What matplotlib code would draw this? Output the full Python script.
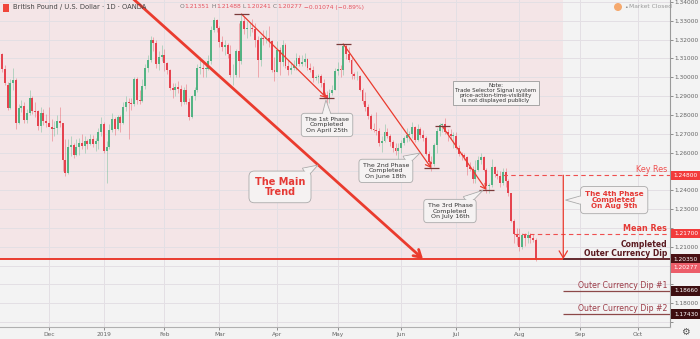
import matplotlib
matplotlib.use("Agg")
import matplotlib.pyplot as plt
import matplotlib.transforms as mtransforms
from matplotlib.patches import Rectangle, Circle, Polygon
import numpy as np
import pandas as pd

# GBP/USD daily candles (OANDA), 7 Nov 2018 .. 9 Aug 2019
opens = [
    1.3080, 1.3125, 1.3045, 1.2960, 1.2835, 1.2970, 1.2985, 1.2755, 1.2835, 1.2850, 1.2775, 1.2810, 1.2890, 1.2820, 1.2820, 1.2740, 1.2810, 1.2770,
    1.2760, 1.2735, 1.2725, 1.2730, 1.2770, 1.2755, 1.2560, 1.2490, 1.2630, 1.2640, 1.2585, 1.2630, 1.2650, 1.2635, 1.2660, 1.2645, 1.2675, 1.2645, 1.2660, 1.2710,
    1.2750, 1.2610, 1.2630, 1.2720, 1.2780, 1.2725, 1.2790, 1.2760, 1.2845, 1.2870, 1.2865, 1.2860, 1.2990, 1.2880, 1.2875, 1.2955, 1.3050, 1.3090, 1.3200, 1.3180, 1.3070, 1.3110,
    1.3120, 1.3075, 1.3040, 1.2945, 1.2935, 1.2950, 1.2940, 1.2870, 1.2935, 1.2870, 1.2790, 1.2900, 1.2935, 1.3050, 1.3050, 1.3045, 1.3045, 1.3085, 1.3250, 1.3305,
    1.3260, 1.3190, 1.3160, 1.3170, 1.3125, 1.3010, 1.3010, 1.3140, 1.3085, 1.3300, 1.3255, 1.3260, 1.3260, 1.3255, 1.3200, 1.3090, 1.3210, 1.3205, 1.3210, 1.3195, 1.3040,
    1.3030, 1.3145, 1.3080, 1.3170, 1.3060, 1.3040, 1.3050, 1.3060, 1.3100, 1.3070, 1.3080, 1.3095, 1.3050, 1.3040, 1.2995, 1.3000, 1.3005, 1.2970, 1.2905, 1.2885, 1.2915, 1.2935,
    1.3035, 1.3045, 1.3040, 1.3165, 1.3125, 1.3090, 1.3015, 1.3005, 1.3005, 1.2935, 1.2875, 1.2845, 1.2795, 1.2725, 1.2720, 1.2715, 1.2650, 1.2660, 1.2710, 1.2690, 1.2655, 1.2625, 1.2610,
    1.2625, 1.2650, 1.2680, 1.2695, 1.2700, 1.2735, 1.2665, 1.2725, 1.2695, 1.2680, 1.2595, 1.2550, 1.2540, 1.2640, 1.2715, 1.2745, 1.2750, 1.2710, 1.2700, 1.2690,
    1.2690, 1.2625, 1.2595, 1.2585, 1.2575, 1.2525, 1.2515, 1.2460, 1.2510, 1.2560, 1.2575, 1.2510, 1.2425, 1.2430, 1.2525, 1.2485, 1.2475, 1.2440, 1.2495, 1.2450, 1.2385, 1.2235, 1.2170,
    1.2150, 1.2100, 1.2160, 1.2145, 1.2165, 1.2145, 1.21351,
]
highs = [
    1.3175, 1.3130, 1.3065, 1.2975, 1.2990, 1.3050, 1.2995, 1.2860, 1.2880, 1.2870, 1.2830, 1.2930, 1.2900, 1.2870, 1.2825, 1.2840, 1.2830, 1.2805,
    1.2840, 1.2780, 1.2770, 1.2800, 1.2840, 1.2760, 1.2670, 1.2670, 1.2690, 1.2650, 1.2670, 1.2680, 1.2700, 1.2690, 1.2670, 1.2700, 1.2695, 1.2680, 1.2730, 1.2790,
    1.2765, 1.2660, 1.2750, 1.2810, 1.2790, 1.2800, 1.2800, 1.2870, 1.2900, 1.2890, 1.2890, 1.3000, 1.3000, 1.2930, 1.2990, 1.3070, 1.3120, 1.3220, 1.3215, 1.3200, 1.3140, 1.3170,
    1.3150, 1.3080, 1.3045, 1.2970, 1.2970, 1.2980, 1.2960, 1.2950, 1.2965, 1.2890, 1.2905, 1.2950, 1.3070, 1.3110, 1.3090, 1.3070, 1.3120, 1.3270, 1.3320, 1.3310,
    1.3270, 1.3220, 1.3200, 1.3180, 1.3170, 1.3070, 1.3150, 1.3290, 1.3336, 1.3320, 1.3300, 1.3290, 1.3310, 1.3290, 1.3220, 1.3220, 1.3250, 1.3250, 1.3270, 1.3200, 1.3110,
    1.3195, 1.3160, 1.3200, 1.3180, 1.3090, 1.3080, 1.3090, 1.3130, 1.3120, 1.3120, 1.3130, 1.3100, 1.3075, 1.3060, 1.3010, 1.3020, 1.3020, 1.2990, 1.2925, 1.2940, 1.2960, 1.3050,
    1.3080, 1.3065, 1.3177, 1.3175, 1.3160, 1.3110, 1.3030, 1.3035, 1.3010, 1.2945, 1.2920, 1.2860, 1.2805, 1.2755, 1.2815, 1.2730, 1.2690, 1.2750, 1.2730, 1.2700, 1.2665, 1.2650, 1.2650,
    1.2665, 1.2690, 1.2730, 1.2715, 1.2765, 1.2740, 1.2750, 1.2735, 1.2720, 1.2690, 1.2610, 1.2580, 1.2650, 1.2730, 1.2755, 1.2760, 1.2785, 1.2725, 1.2725, 1.2710,
    1.2710, 1.2640, 1.2605, 1.2600, 1.2580, 1.2550, 1.2530, 1.2560, 1.2580, 1.2600, 1.2580, 1.2520, 1.2440, 1.2565, 1.2530, 1.2510, 1.2500, 1.2520, 1.2520, 1.2460, 1.2385, 1.2250, 1.2200,
    1.2200, 1.2175, 1.2175, 1.2185, 1.2175, 1.2170, 1.21488,
]
lows = [
    1.3050, 1.3030, 1.2960, 1.2825, 1.2830, 1.2930, 1.2725, 1.2750, 1.2815, 1.2760, 1.2760, 1.2800, 1.2805, 1.2790, 1.2720, 1.2710, 1.2745, 1.2735,
    1.2740, 1.2660, 1.2690, 1.2700, 1.2735, 1.2505, 1.2475, 1.2485, 1.2580, 1.2570, 1.2580, 1.2590, 1.2620, 1.2600, 1.2620, 1.2640, 1.2630, 1.2610, 1.2620, 1.2690,
    1.2600, 1.2440, 1.2620, 1.2710, 1.2695, 1.2720, 1.2710, 1.2750, 1.2820, 1.2670, 1.2825, 1.2850, 1.2860, 1.2860, 1.2870, 1.2940, 1.3030, 1.3080, 1.3140, 1.3050, 1.3040, 1.3085,
    1.3035, 1.3020, 1.2935, 1.2890, 1.2900, 1.2915, 1.2850, 1.2860, 1.2860, 1.2775, 1.2785, 1.2880, 1.2920, 1.3020, 1.3000, 1.3000, 1.3040, 1.3070, 1.3240, 1.3240,
    1.3160, 1.3140, 1.3120, 1.3100, 1.3000, 1.2960, 1.3000, 1.3000, 1.3070, 1.3230, 1.3210, 1.3220, 1.3240, 1.3160, 1.3000, 1.3060, 1.3170, 1.3180, 1.3160, 1.3030, 1.2980,
    1.3030, 1.3010, 1.3060, 1.3050, 1.3010, 1.3020, 1.3040, 1.3040, 1.3060, 1.3060, 1.3060, 1.3040, 1.3030, 1.2975, 1.2985, 1.2970, 1.2950, 1.2890, 1.2865, 1.2865, 1.2905, 1.2930,
    1.3010, 1.3000, 1.3010, 1.3095, 1.3080, 1.2990, 1.2990, 1.2985, 1.2925, 1.2860, 1.2820, 1.2780, 1.2720, 1.2710, 1.2695, 1.2635, 1.2605, 1.2655, 1.2680, 1.2635, 1.2605, 1.2585, 1.2560,
    1.2600, 1.2640, 1.2655, 1.2660, 1.2680, 1.2655, 1.2660, 1.2680, 1.2660, 1.2590, 1.2540, 1.2505, 1.2530, 1.2600, 1.2690, 1.2710, 1.2700, 1.2660, 1.2670, 1.2625,
    1.2620, 1.2580, 1.2560, 1.2560, 1.2480, 1.2500, 1.2440, 1.2440, 1.2500, 1.2540, 1.2500, 1.2385, 1.2385, 1.2420, 1.2470, 1.2460, 1.2420, 1.2430, 1.2420, 1.2370, 1.2230, 1.2120, 1.2110,
    1.2080, 1.2090, 1.2105, 1.2120, 1.2120, 1.2125, 1.20241,
]
closes = [
    1.3125, 1.3045, 1.2970, 1.2835, 1.2970, 1.2985, 1.2755, 1.2835, 1.2850, 1.2775, 1.2810, 1.2890, 1.2820, 1.2815, 1.2740, 1.2810, 1.2770, 1.2760,
    1.2735, 1.2725, 1.2730, 1.2770, 1.2755, 1.2560, 1.2490, 1.2630, 1.2640, 1.2585, 1.2630, 1.2650, 1.2635, 1.2660, 1.2645, 1.2675, 1.2645, 1.2660, 1.2710, 1.2750,
    1.2610, 1.2630, 1.2720, 1.2780, 1.2725, 1.2790, 1.2760, 1.2845, 1.2870, 1.2865, 1.2860, 1.2990, 1.2880, 1.2875, 1.2955, 1.3050, 1.3090, 1.3200, 1.3180, 1.3070, 1.3110, 1.3120,
    1.3075, 1.3040, 1.2945, 1.2935, 1.2950, 1.2940, 1.2870, 1.2935, 1.2870, 1.2790, 1.2900, 1.2935, 1.3050, 1.3050, 1.3045, 1.3045, 1.3085, 1.3250, 1.3305, 1.3260,
    1.3190, 1.3160, 1.3170, 1.3125, 1.3010, 1.3010, 1.3140, 1.3085, 1.3300, 1.3255, 1.3260, 1.3260, 1.3255, 1.3200, 1.3090, 1.3210, 1.3205, 1.3210, 1.3195, 1.3040, 1.3030,
    1.3145, 1.3080, 1.3170, 1.3060, 1.3040, 1.3050, 1.3060, 1.3100, 1.3070, 1.3080, 1.3095, 1.3050, 1.3040, 1.2995, 1.3000, 1.3005, 1.2970, 1.2905, 1.2885, 1.2915, 1.2935, 1.3035,
    1.3045, 1.3040, 1.3165, 1.3125, 1.3090, 1.3015, 1.3005, 1.3005, 1.2935, 1.2875, 1.2845, 1.2795, 1.2725, 1.2720, 1.2715, 1.2650, 1.2660, 1.2710, 1.2690, 1.2655, 1.2625, 1.2610, 1.2625,
    1.2650, 1.2680, 1.2695, 1.2700, 1.2735, 1.2665, 1.2725, 1.2695, 1.2680, 1.2595, 1.2550, 1.2540, 1.2640, 1.2715, 1.2745, 1.2750, 1.2710, 1.2700, 1.2690, 1.2690,
    1.2625, 1.2595, 1.2585, 1.2575, 1.2525, 1.2515, 1.2460, 1.2510, 1.2560, 1.2575, 1.2510, 1.2425, 1.2430, 1.2525, 1.2485, 1.2475, 1.2440, 1.2495, 1.2450, 1.2385, 1.2235, 1.2170, 1.2150,
    1.2100, 1.2160, 1.2145, 1.2165, 1.2145, 1.2135, 1.20277,
]

first_day = "2018-11-07"
closed_days = ["2018-12-25", "2019-01-01"]
month_ticks = ["2018-12", "2019-01", "2019-02", "2019-03", "2019-04", "2019-05",
               "2019-06", "2019-07", "2019-08", "2019-09", "2019-10"]
month_labels = ["Dec", "2019", "Feb", "Mar", "Apr", "May", "Jun", "Jul", "Aug", "Sep", "Oct"]

# support / resistance levels
key_res = 1.24800
mean_res = 1.21700
dip_done = 1.20350
dip_1 = 1.18660
dip_2 = 1.17430

# phase swings: (date, price) start -> end
phases = [
    (("2019-03-13", 1.3336), ("2019-04-25", 1.2890)),
    (("2019-05-03", 1.3177), ("2019-06-18", 1.2518)),
    (("2019-06-24", 1.2741), ("2019-07-16", 1.2402)),
]
main_trend = (("2019-01-16", 1.3425), ("2019-06-13", 1.2035))
phase4_day = "2019-08-23"
key_res_from = "2019-07-24"
mean_res_from = "2019-07-30"

price_ticks = np.round(np.arange(1.17, 1.3401, 0.01), 2)

# trading calendar (weekdays without the closed days), extended into the future
calendar = pd.bdate_range(first_day, "2019-10-31")
calendar = calendar[~calendar.isin(pd.to_datetime(closed_days))]


def pos(day):
    return calendar.get_loc(pd.Timestamp(day))


GREEN = "#53b383"
RED = "#e5434f"
LINE_RED = "#ea3b2e"
MAROON = "#5a1a20"
BOX_FC = "#f5f2f2"
BOX_EC = "#ababab"

fig = plt.figure(figsize=(7, 3.39), dpi=100)
fig.patch.set_facecolor("#f3f3f3")
ax = fig.add_axes([0, 12 / 339, 670 / 700, 327 / 339])
ax.set_facecolor("#f3f3f3")
blend = mtransforms.blended_transform_factory(ax.transAxes, ax.transData)

x0, x1 = 0.2, 243.8
y0, y1 = 1.16740, 1.34106
ax.set_xlim(x0, x1)
ax.set_ylim(y0, y1)

# pink session area above the completed dip
ax.add_patch(Rectangle((x0, dip_done), pos(phase4_day) - x0, y1 - dip_done,
                       fc="#f4e5e7", ec="none", zorder=0))

# grid
for p in price_ticks:
    ax.axhline(p, color="#e3dfe4", lw=0.7, zorder=0.5)
tick_pos = [pos(calendar[calendar.strftime("%Y-%m") == m][0]) for m in month_ticks]
for t in tick_pos:
    ax.axvline(t, color="#e3dfe4", lw=0.7, zorder=0.5)

# candles
o = np.array(opens)
h = np.array(highs)
l = np.array(lows)
c = np.array(closes)
xs = np.arange(len(c))
cols = np.where(c >= o, GREEN, RED)
ax.vlines(xs, l, h, colors=cols, lw=0.6, alpha=0.45, zorder=2)
body = np.maximum(np.abs(c - o), 0.0003)
ax.bar(xs, body, bottom=np.minimum(o, c), width=0.72, color=cols, lw=0, zorder=2.1)

# main trend
(d_a, p_a), (d_b, p_b) = main_trend
ax.annotate("", xy=(pos(d_b), p_b), xytext=(pos(d_a), p_a),
            arrowprops=dict(arrowstyle="->,head_length=0.5,head_width=0.3", color=LINE_RED,
                            lw=2.0, shrinkA=0, shrinkB=0), zorder=3, annotation_clip=False)

# phase swings with pivot markers
for (d_a, p_a), (d_b, p_b) in phases:
    ax.annotate("", xy=(pos(d_b), p_b), xytext=(pos(d_a), p_a),
                arrowprops=dict(arrowstyle="->,head_length=0.35,head_width=0.2", color=LINE_RED,
                                lw=0.9, shrinkA=0, shrinkB=0), zorder=3)
    for d, p in ((d_a, p_a), (d_b, p_b)):
        ax.hlines(p, pos(d) - 2.8, pos(d) + 2.8, color="#7a3a3a", lw=0.9, zorder=3)

# levels
right = x1
ax.hlines(key_res, pos(key_res_from), right, color="#ef4f4f", lw=0.8, linestyles=(0, (4, 3)), zorder=3)
ax.hlines(mean_res, pos(mean_res_from), right, color="#ef4f4f", lw=0.8, linestyles=(0, (4, 3)), zorder=3)
ax.hlines(dip_done, x0, pos(phase4_day), color=LINE_RED, lw=1.4, zorder=3)
ax.hlines(dip_done, pos(phase4_day), right, color=MAROON, lw=1.3, zorder=3)
ax.hlines([dip_1, dip_2], pos(phase4_day), right, color="#8c4848", lw=0.9, zorder=3)

# 4th phase drop
ax.annotate("", xy=(pos(phase4_day), dip_done), xytext=(pos(phase4_day), key_res),
            arrowprops=dict(arrowstyle="->,head_length=0.5,head_width=0.3", color=LINE_RED,
                            lw=0.9, shrinkA=0, shrinkB=0), zorder=3)

# callout boxes; tails are added once the box sizes are known
callouts = []


def callout(text, tip, center, fs, color="#333333", weight="normal", spacing=1.1):
    t = ax.text(center[0], center[1], text, ha="center", va="center", fontsize=fs,
                color=color, fontweight=weight, linespacing=spacing, zorder=6,
                bbox=dict(boxstyle="round,pad=0.6,rounding_size=0.55", fc=BOX_FC, ec=BOX_EC, lw=0.6))
    callouts.append((t, tip))


callout("The Main\nTrend", (115.8, 1.2534), (102.0, 1.2418), 7, color="#e53935", weight="bold", spacing=1.0)
callout("The 1st Phase\nCompleted\nOn April 25th", (118.7, 1.2880), (119.1, 1.2747), 4.5)
callout("The 2nd Phase\nCompleted\nOn June 18th", (152.9, 1.2598), (140.5, 1.2503), 4.5)
callout("The 3rd Phase\nCompleted\nOn July 16th", (175.8, 1.2400), (163.8, 1.2290), 4.5)
callout("The 4th Phase\nCompleted\nOn Aug 9th", (pos(phase4_day) + 0.8, 1.2348), (223.5, 1.2348), 5.2,
        color="#e53935", weight="bold", spacing=1.05)

ax.text(180.5, 1.2917, "Note:\nTrade Selector Signal system\nprice-action-time-visibility\nis not displayed publicly",
        ha="center", va="center", fontsize=4.1, color="#333333", linespacing=0.95, zorder=6,
        bbox=dict(boxstyle="square,pad=0.35", fc=BOX_FC, ec="#9a9a9a", lw=0.6))

# level captions
lab_x = 0.996
ax.text(lab_x, key_res + 0.0004, "Key Res", transform=blend, ha="right", va="bottom",
        fontsize=5.8, color="#ef4f4f", zorder=6)
ax.text(lab_x, mean_res + 0.0004, "Mean Res", transform=blend, ha="right", va="bottom",
        fontsize=5.8, color="#e53935", fontweight="bold", zorder=6)
ax.text(lab_x, dip_done + 0.0004, "Completed\nOuter Currency Dip", transform=blend, ha="right", va="bottom",
        fontsize=5.5, color=MAROON, fontweight="bold", linespacing=1.0, zorder=6)
ax.text(lab_x, dip_1 + 0.0004, "Outer Currency Dip #1", transform=blend, ha="right", va="bottom",
        fontsize=5.6, color="#9b3a46", zorder=6)
ax.text(lab_x, dip_2 + 0.0004, "Outer Currency Dip #2", transform=blend, ha="right", va="bottom",
        fontsize=5.6, color="#9b3a46", zorder=6)

# price tags on the scale
tag_h = 0.0050
tag_w = 30 / 670
last_close = closes[-1]
tags = [
    (key_res, key_res, "#f23b3b"),
    (mean_res, mean_res, "#f23b3b"),
    (dip_done, dip_done, "#4a1114"),
    (min(last_close, dip_done - tag_h * 0.95), last_close, "#ec5d69"),
    (dip_1, dip_1, "#3d0e10"),
    (dip_2, dip_2, "#3d0e10"),
]
for yy, val, fc in tags:
    ax.add_patch(Rectangle((1.0015, yy - tag_h / 2), tag_w, tag_h, transform=blend,
                           fc=fc, ec="none", clip_on=False, zorder=7))
    ax.text(1.0015 + tag_w / 2, yy, f"{val:.5f}", transform=blend, ha="center", va="center",
            fontsize=4.2, color="white", clip_on=False, zorder=8)

# axes styling; tick labels hidden where a price tag covers them
for side in ("top", "left"):
    ax.spines[side].set_visible(False)
ax.spines["right"].set_color("#9a9a9a")
ax.spines["bottom"].set_color("#b0b0b0")
ax.yaxis.tick_right()
ax.set_yticks(price_ticks)
tag_levels = [t[0] for t in tags]
ax.set_yticklabels(["" if min(abs(p - t) for t in tag_levels) < tag_h else f"{p:.5f}"
                    for p in price_ticks])
ax.tick_params(axis="y", labelsize=4.2, colors="#666666", length=2, width=0.5, pad=1.5)
ax.set_xticks(tick_pos)
ax.set_xticklabels(month_labels)
ax.tick_params(axis="x", labelsize=4.2, colors="#666666", length=2, width=0.5, pad=1.5)

# header
fig.patches.append(Rectangle((3 / 700, 1 - 12 / 339), 6 / 700, 8 / 339, transform=fig.transFigure,
                             fc="#f0453a", ec="none"))
fig.text(13 / 700, 1 - 7 / 339, "British Pound / U.S. Dollar · 1D · OANDA", fontsize=4.9,
         color="#444444", va="center", ha="left")
ohlc = [("O", "#777777"), ("1.21351", "#e5535f"), (" H", "#777777"), ("1.21488", "#e5535f"),
        (" L", "#777777"), ("1.20241", "#e5535f"), (" C", "#777777"), ("1.20277", "#e5535f"),
        (" −0.01074 (−0.89%)", "#e5535f")]
prev = fig.text(180 / 700, 1 - 7 / 339, ohlc[0][0], fontsize=4.3, color=ohlc[0][1], va="center", ha="left")
for s, col in ohlc[1:]:
    prev = ax.annotate(s, xy=(1, 0.5), xycoords=prev, va="center", ha="left", fontsize=4.3,
                       color=col, annotation_clip=False)

fig.patches.append(Circle((6.18, 3.39 - 0.07), 0.04, transform=fig.dpi_scale_trans,
                          fc="#f5a96e", ec="none"))
fig.text(624 / 700, 1 - 7 / 339, "•", fontsize=4.5, color="#888888", va="center", ha="left")
fig.text(629 / 700, 1 - 7 / 339, "Market Closed", fontsize=4.3, color="#999999", va="center", ha="left")
fig.text(685 / 700, 1 - 332 / 339, "⚙", fontsize=7, color="#555555", va="center", ha="center")

# callout tails: triangle from the box edge to the tip
fig.canvas.draw()
to_data = ax.transData.inverted()
for txt, tip in callouts:
    bb = txt.get_bbox_patch().get_window_extent()
    cen = np.array([(bb.x0 + bb.x1) / 2, (bb.y0 + bb.y1) / 2])
    end = ax.transData.transform(tip)
    d = end - cen
    u = d / np.hypot(*d)
    s = min(bb.width / 2 / abs(d[0]) if d[0] else np.inf,
            bb.height / 2 / abs(d[1]) if d[1] else np.inf)
    base = cen + d * s - u * 3
    n = np.array([-u[1], u[0]]) * 5
    pts = np.array([base + n, end, base - n])
    ax.add_patch(Polygon(to_data.transform(pts), closed=True, fc=BOX_FC, ec=BOX_EC, lw=0.6, zorder=5.9))
    # cover the box border where the tail joins
    mid = pts.mean(axis=0)
    inner = mid + (pts - mid) * 0.85
    inner[1] = mid + (end - mid) * 0.6
    ax.add_patch(Polygon(to_data.transform(inner), closed=True, fc=BOX_FC, ec="none", zorder=6.5))

fig.savefig("out.png", dpi=100)
